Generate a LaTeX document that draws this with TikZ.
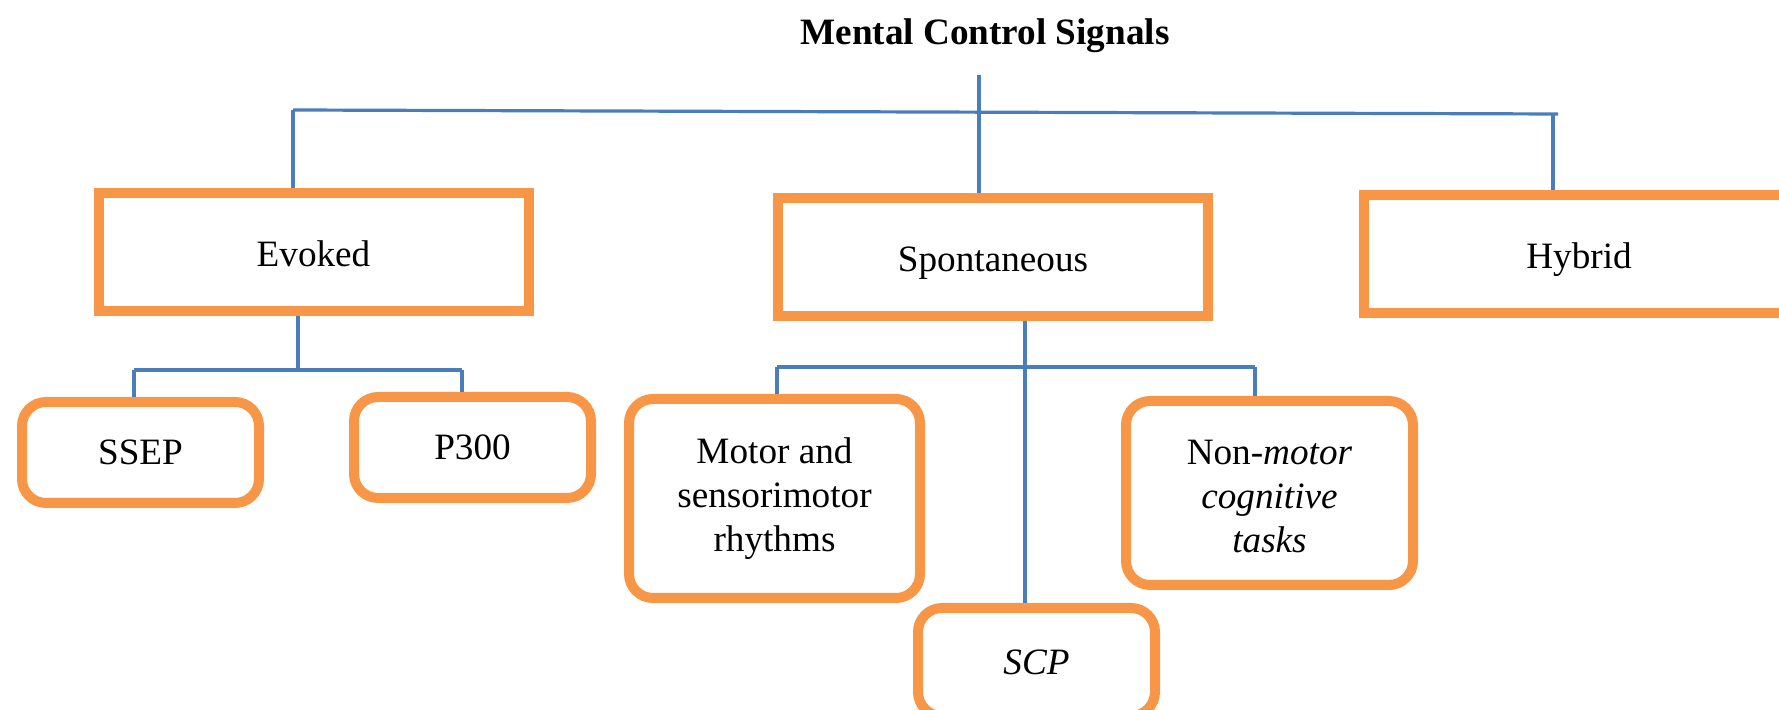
\documentclass[tikz,border=0pt]{standalone}
\usepackage{fontspec}
\setmainfont{Liberation Serif}
\definecolor{boxorange}{RGB}{247,150,70}
\definecolor{linkblue}{RGB}{74,126,187}
\begin{document}
\begin{tikzpicture}[x=0.5pt,y=-0.5pt,
  every node/.style={font=\fontsize{18.6}{22}\selectfont, inner sep=0pt},
  mainbox/.style={draw=boxorange, line width=5pt, fill=white, minimum width=215pt, minimum height=59pt, text height=16pt, text depth=1.7pt},
  subbox/.style={draw=boxorange, line width=5pt, fill=white, rounded corners=12pt, align=center},
  conn/.style={draw=linkblue, line width=1.6pt}]
\useasboundingbox (0,0) rectangle (1779,710);
\clip (0,0) rectangle (1779,710);
% title
\node[font=\fontsize{18.6}{22}\selectfont\bfseries] (title) at (985,35.5) {Mental Control Signals};
% main boxes
\node[mainbox] (evoked) at (313.5,252) {Evoked};
\node[mainbox] (spont) at (993,257) {Spontaneous};
\node[mainbox] (hybrid) at (1579,254) {Hybrid};
% sub boxes
\node[subbox, minimum width=118.5pt, minimum height=50.5pt] (ssep) at (140.5,452.5) {SSEP};
\node[subbox, minimum width=118.5pt, minimum height=50.5pt] (p300) at (472.5,447.5) {P300};
\node[subbox, minimum width=145.5pt, minimum height=99.5pt] (motor) at (774.5,498.5) {Motor and\\sensorimotor\\rhythms};
\node[subbox, minimum width=143.5pt, minimum height=92pt] (nonmotor) at (1269.5,493) {\rule{0pt}{15.5pt}Non-\textit{motor}\\\textit{cognitive}\\\textit{tasks}};
\node[subbox, minimum width=118.5pt, minimum height=54pt] (scp) at (1036.5,662) {\textit{SCP}};
% junction coordinates
\coordinate (t0) at (979,75);
\coordinate (barL) at (293,110);
\coordinate (barR) at (1558,114);
\coordinate (hR) at (1553,114);
\coordinate (eJ) at (298,370);
\coordinate (eL) at (134,370);
\coordinate (eR) at (462,370);
\coordinate (sJ) at (1025,367);
\coordinate (sL) at (777,367);
\coordinate (sR) at (1255,367);
% connectors
\draw[conn] (t0) -- (spont.north -| t0);
\draw[conn] (barL) -- (barR);
\draw[conn] (barL) -- (evoked.north -| barL);
\draw[conn] (hR) -- (hybrid.north -| hR);
\draw[conn] (evoked.south -| eJ) -- (eJ);
\draw[conn] (eL) -- (eR);
\draw[conn] (eL) -- (ssep.north -| eL);
\draw[conn] (eR) -- (p300.north -| eR);
\draw[conn] (spont.south -| sJ) -- (scp.north -| sJ);
\draw[conn] (sL) -- (sR);
\draw[conn] (sL) -- (motor.north -| sL);
\draw[conn] (sR) -- (nonmotor.north -| sR);
\end{tikzpicture}
\end{document}
